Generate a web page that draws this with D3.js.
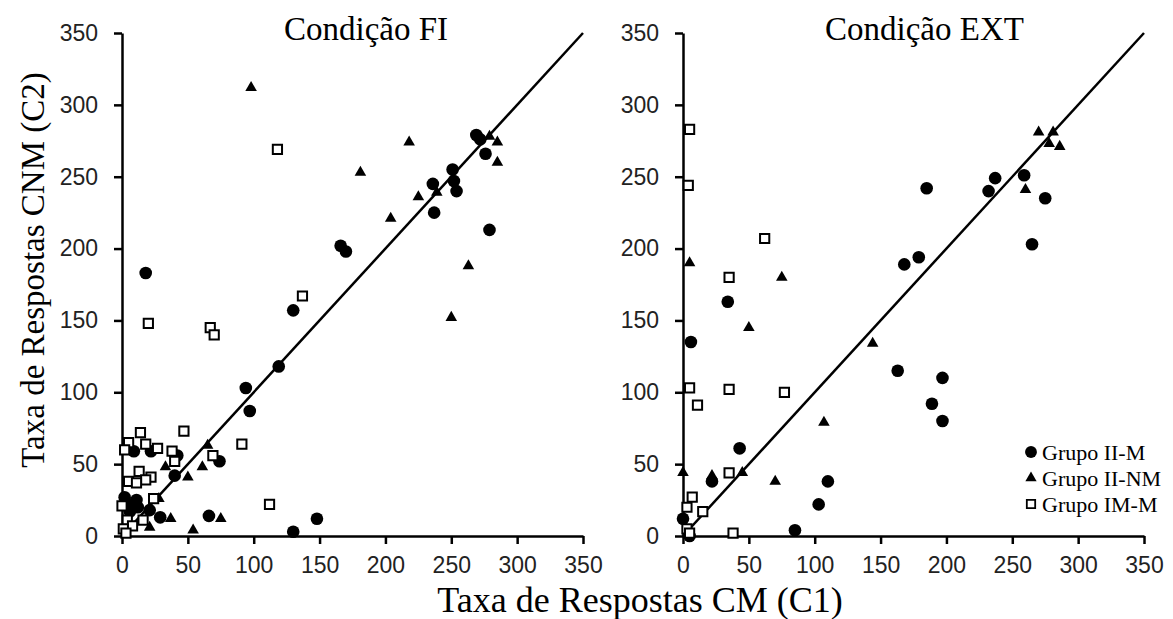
<!DOCTYPE html>
<html>
<head>
<meta charset="utf-8">
<script src="https://cdnjs.cloudflare.com/ajax/libs/d3/7.8.5/d3.min.js"></script>
<style>
  html, body { margin: 0; padding: 0; background: #fff; }
  svg { display: block; }
</style>
</head>
<body>
<svg id="chart" width="1173" height="619"></svg>
<script>
// ---------- DATA ----------
const panelTitles = ["Condição FI", "Condição EXT"];
const tickValues = [0, 50, 100, 150, 200, 250, 300, 350];
const xAxisTitle = "Taxa de Respostas CM (C1)";
const yAxisTitle = "Taxa de Respostas CNM (C2)";
const seriesNames = ["Grupo II-M", "Grupo II-NM", "Grupo IM-M"];

// Condição FI : [C1, C2]
const fi_IIM = [[18,183],[130,157],[119,118],[94,103],[97,87],[74,52],[42,56],[40,42],[9,59],[22,59],
  [2,27],[11,25],[8,22],[12,20],[6,17],[21,18],[29,13],[66,14],[130,3],[148,12],
  [166,202],[170,198],[236,245],[237,225],[251,255],[252,247],[254,240],[269,279],[272,276],[276,266],[279,213]];
const fi_IINM = [[98,312],[181,253],[218,274],[204,221],[225,236],[239,239],[279,278],[285,274],[285,260],
  [263,188],[250,152],[65,63],[33,48],[61,48],[50,41],[28,26],[37,12],[21,6],[54,4],[75,12]];
const fi_IMM = [[118,269],[137,167],[20,148],[67,145],[70,140],[91,64],[47,73],[14,72],[5,65],[2,60],
  [18,64],[27,61],[38,59],[40,52],[69,56],[13,45],[22,41],[18,39],[5,38],[11,37],[24,26],[0,21],
  [4,11],[16,11],[8,7],[1,5],[112,22],[3,2]];

// Condição EXT : [C1, C2]
const ext_IIM = [[0,12],[5,0],[6,135],[34,163],[22,38],[43,61],[85,4],[103,22],[110,38],[163,115],
  [168,189],[179,194],[185,242],[189,92],[197,110],[197,80],[232,240],[237,249],[259,251],[265,203],[275,235]];
const ext_IINM = [[0,44],[5,190],[22,42],[45,44],[50,145],[70,38],[75,180],[107,79],[144,134],
  [260,241],[270,281],[278,273],[286,271],[281,281]];
const ext_IMM = [[5,283],[4,244],[62,207],[35,180],[35,102],[77,100],[5,103],[11,91],[35,44],
  [3,20],[7,27],[15,17],[38,2],[3,5],[5,2]];

const identityLine = [[0,0],[350,350]];

// ---------- DRAW ----------
const svg = d3.select("#chart");
const serif = "'Liberation Serif', 'Times New Roman', serif";
const sans = "'Liberation Sans', Arial, sans-serif";

const panels = [
  { title: panelTitles[0], x0: 122, titleX: 284, sets: [fi_IIM, fi_IINM, fi_IMM] },
  { title: panelTitles[1], x0: 683, titleX: 825, sets: [ext_IIM, ext_IINM, ext_IMM] }
];
const plotW = 461, yTop = 33, yBot = 536;

const symCircle = d3.symbol().type(d3.symbolCircle).size(125);
const symTri = d3.symbol().type(d3.symbolTriangle).size(58);
const symSq = d3.symbol().type(d3.symbolSquare).size(85);

panels.forEach(p => {
  const x = d3.scaleLinear().domain([0, 350]).range([p.x0, p.x0 + plotW]);
  const y = d3.scaleLinear().domain([0, 350]).range([yBot, yTop]);
  const g = svg.append("g");

  const ya = g.append("g").attr("transform", `translate(${x(0)},0)`)
    .call(d3.axisLeft(y).tickValues(tickValues).tickSize(8).tickSizeOuter(0).tickPadding(16));
  const xa = g.append("g").attr("transform", `translate(0,${y(0)})`)
    .call(d3.axisBottom(x).tickValues(tickValues).tickSize(8).tickSizeOuter(0).tickPadding(13));
  [ya, xa].forEach(a => {
    a.selectAll("path, line").attr("stroke", "#000").attr("stroke-width", 2.5);
    a.selectAll("text").attr("font-family", sans).attr("font-size", 23).attr("fill", "#222");
  });

  g.append("path")
    .attr("d", d3.line().x(d => x(d[0])).y(d => y(d[1]))(identityLine))
    .attr("stroke", "#000").attr("stroke-width", 2.5).attr("fill", "none");

  g.selectAll(".c").data(p.sets[0]).join("path")
    .attr("d", symCircle).attr("transform", d => `translate(${x(d[0])},${y(d[1])})`)
    .attr("fill", "#000");
  g.selectAll(".t").data(p.sets[1]).join("path")
    .attr("d", symTri).attr("transform", d => `translate(${x(d[0])},${y(d[1])})`)
    .attr("fill", "#000");
  g.selectAll(".s").data(p.sets[2]).join("path")
    .attr("d", symSq).attr("transform", d => `translate(${x(d[0])},${y(d[1])})`)
    .attr("fill", "#fff").attr("stroke", "#000").attr("stroke-width", 2);

  svg.append("text").attr("x", p.titleX).attr("y", 40)
    .attr("font-family", serif).attr("font-size", 33).attr("fill", "#000")
    .text(p.title);
});

// axis titles
svg.append("text").attr("transform", "translate(44,270) rotate(-90)")
  .attr("text-anchor", "middle").attr("font-family", serif).attr("font-size", 33)
  .text(yAxisTitle);
svg.append("text").attr("x", 640).attr("y", 612)
  .attr("text-anchor", "middle").attr("font-family", serif).attr("font-size", 36)
  .text(xAxisTitle);

// legend
const legY = [452, 478, 504];
const legSyms = [
  d3.symbol().type(d3.symbolCircle).size(110),
  d3.symbol().type(d3.symbolTriangle).size(55),
  d3.symbol().type(d3.symbolSquare).size(70)
];
const leg = svg.append("g");
seriesNames.forEach((name, i) => {
  leg.append("path").attr("d", legSyms[i]())
    .attr("transform", `translate(1031,${legY[i]})`)
    .attr("fill", i === 2 ? "#fff" : "#000")
    .attr("stroke", i === 2 ? "#000" : "none").attr("stroke-width", 1.8);
  leg.append("text").attr("x", 1042).attr("y", legY[i]).attr("dy", "0.35em")
    .attr("font-family", serif).attr("font-size", 22).text(name);
});
</script>
</body>
</html>
